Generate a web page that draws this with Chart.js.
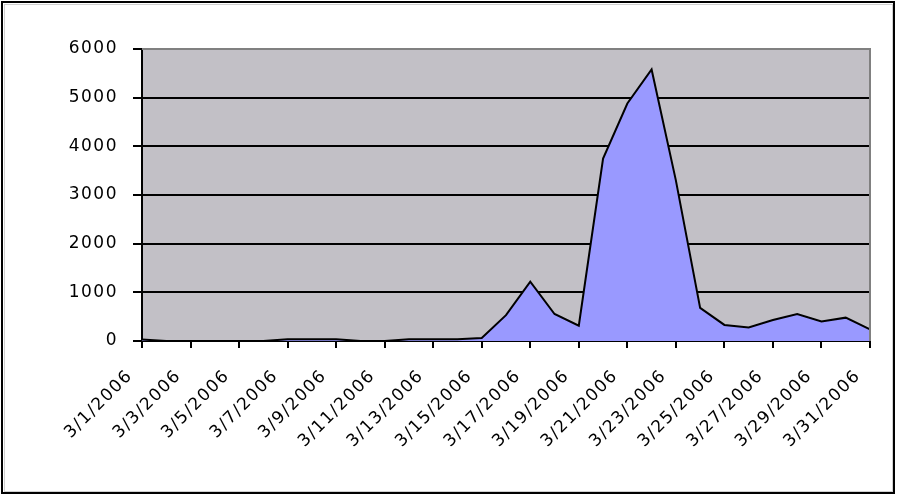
<!DOCTYPE html>
<html>
<head>
<meta charset="utf-8">
<script src="https://cdn.jsdelivr.net/npm/chart.js@4"></script>
<style>
    html, body { margin: 0; padding: 0; background: #fff; }
    #wrap { width: 898px; height: 499px; }
</style>
</head>
<body>
<div id="wrap"><canvas id="chart" width="898" height="499"></canvas></div>
<script>
// Daily counts, March 2006
const dates = [
    '3/1/2006', '3/2/2006', '3/3/2006', '3/4/2006', '3/5/2006', '3/6/2006', '3/7/2006', '3/8/2006',
    '3/9/2006', '3/10/2006', '3/11/2006', '3/12/2006', '3/13/2006', '3/14/2006', '3/15/2006', '3/16/2006',
    '3/17/2006', '3/18/2006', '3/19/2006', '3/20/2006', '3/21/2006', '3/22/2006', '3/23/2006', '3/24/2006',
    '3/25/2006', '3/26/2006', '3/27/2006', '3/28/2006', '3/29/2006', '3/30/2006', '3/31/2006'
];
const counts = [
    30, 0, 0, 0, 0, 0, 35, 35,
    35, 0, 0, 35, 35, 35, 60, 530,
    1220, 555, 315, 3750, 4880, 5580, 3300, 680,
    330, 280, 430, 555, 400, 480, 240
];
const yTicks = [0, 1000, 2000, 3000, 4000, 5000, 6000];

// Gray plot area + outer frame, Excel style
const frame = {
    id: 'frame',
    beforeInit(chart) {
        // the old Excel font is wide, spread the glyphs a bit
        chart.ctx.letterSpacing = '1.5px';
    },
    beforeDraw(chart) {
        const { ctx, chartArea: a } = chart;
        ctx.letterSpacing = '1.5px';
        ctx.save();
        ctx.fillStyle = '#c2c0c6';
        ctx.fillRect(a.left, a.top, a.right - a.left, a.bottom - a.top);
        ctx.restore();
    },
    afterDraw(chart) {
        const { ctx, chartArea: a } = chart;
        ctx.save();
        ctx.strokeStyle = '#808080';
        ctx.lineWidth = 2;
        ctx.beginPath();
        ctx.moveTo(a.left, a.top);
        ctx.lineTo(a.right, a.top);
        ctx.lineTo(a.right, a.bottom);
        ctx.stroke();
        ctx.strokeStyle = '#000';
        ctx.lineWidth = 2;
        ctx.strokeRect(2, 2, 892, 491);
        ctx.strokeStyle = '#d0d0d0';
        ctx.lineWidth = 1;
        ctx.strokeRect(4.5, 4.5, 888, 487);
        ctx.restore();
    }
};

const font = { family: '"DejaVu Sans", sans-serif', size: 17 };

new Chart(document.getElementById('chart'), {
    type: 'line',
    data: {
        labels: dates,
        datasets: [{
            data: counts,
            fill: 'origin',
            backgroundColor: '#9999ff',
            borderColor: '#000',
            borderWidth: 2,
            pointRadius: 0,
            tension: 0
        }]
    },
    options: {
        responsive: false,
        animation: false,
        events: [],
        layout: { padding: { top: 49, right: 28, bottom: 0, left: 0 } },
        plugins: { legend: { display: false }, tooltip: { enabled: false } },
        scales: {
            x: {
                offset: false,
                afterFit: s => {
                    s.height = 158;
                    s.paddingLeft = 0;
                    s.paddingRight = 0;
                },
                border: { color: '#000', width: 2 },
                grid: {
                    drawOnChartArea: false,
                    tickLength: 7,
                    lineWidth: 2,
                    color: c => (c.index % 2 === 0 ? '#000' : 'rgba(0,0,0,0)'),
                    tickColor: c => (c.index % 2 === 0 ? '#000' : 'rgba(0,0,0,0)')
                },
                ticks: {
                    autoSkip: false,
                    minRotation: 45,
                    maxRotation: 45,
                    padding: 18,
                    labelOffset: -12,
                    color: '#000',
                    font: font,
                    callback: (v, i) => (i % 2 === 0 ? dates[i] : '')
                }
            },
            y: {
                min: 0,
                max: 6000,
                afterFit: s => { s.width = 142; },
                afterBuildTicks: s => { s.ticks = yTicks.map(v => ({ value: v })); },
                border: { color: '#000', width: 2 },
                grid: { color: '#000', lineWidth: 2, tickLength: 9 },
                ticks: { padding: 15, color: '#000', font: font, callback: v => String(v) }
            }
        }
    },
    plugins: [frame]
});
</script>
</body>
</html>
